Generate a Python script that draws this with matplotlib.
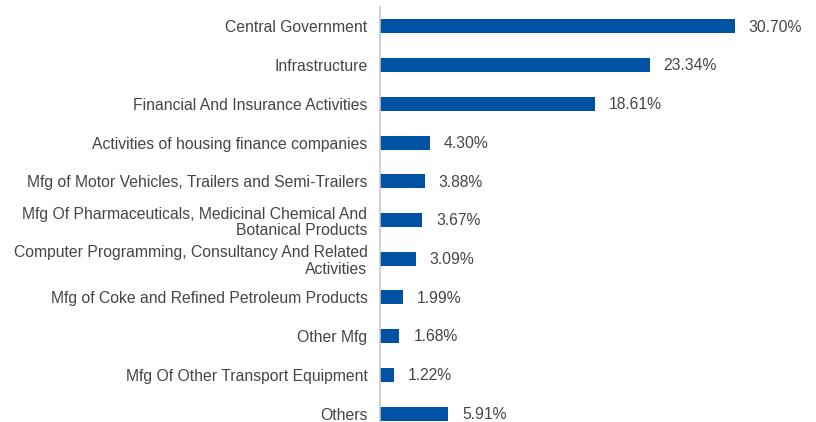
import matplotlib.pyplot as plt

plt.rcParams['font.family'] = ['Liberation Sans', 'DejaVu Sans']

sectors = [
    "Central Government",
    "Infrastructure",
    "Financial And Insurance Activities",
    "Activities of housing finance companies",
    "Mfg of Motor Vehicles, Trailers and Semi-Trailers",
    "Mfg Of Pharmaceuticals, Medicinal Chemical And\nBotanical Products",
    "Computer Programming, Consultancy And Related\nActivities",
    "Mfg of Coke and Refined Petroleum Products",
    "Other Mfg",
    "Mfg Of Other Transport Equipment",
    "Others",
]
weights = [30.70, 23.34, 18.61, 4.30, 3.88, 3.67, 3.09, 1.99, 1.68, 1.22, 5.91]

bar_color = "#0052A5"
text_color = "#454545"

fig = plt.figure(figsize=(8.16, 4.22), dpi=100)
# axes runs a little past the bottom edge so the last bar sits low
ax = fig.add_axes([380 / 816, -11 / 422, 1 - 380 / 816, 426 / 422])

pos = list(range(len(sectors)))
ax.barh(pos, weights, height=0.36, color=bar_color)
ax.set_ylim(len(sectors) - 0.5, -0.5)
ax.set_xlim(0, 436 / 11.56)

ax.set_yticks(pos)
ax.set_yticklabels(sectors, fontsize=11.35, color=text_color, linespacing=1.15)
ax.tick_params(axis='y', length=0, pad=9)
ax.set_xticks([])

for sp in ['top', 'right', 'bottom']:
    ax.spines[sp].set_visible(False)
ax.spines['left'].set_color("#c8c8c8")
ax.spines['left'].set_linewidth(1.2)

for y, v in zip(pos, weights):
    ax.text(v + 1.2, y + 0.02, f"{v:.2f}%", va='center', ha='left',
            fontsize=11.35, color=text_color)

fig.savefig("out.png", dpi=100)
